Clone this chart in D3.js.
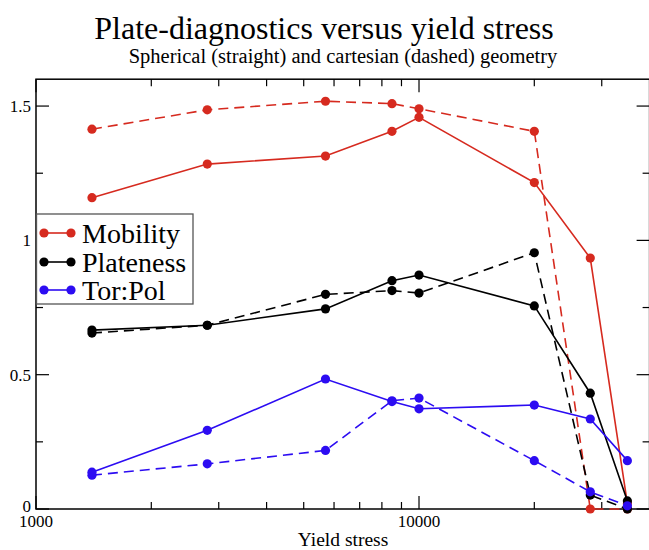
<!DOCTYPE html>
<html>
<head>
<meta charset="utf-8">
<script src="https://cdn.jsdelivr.net/npm/d3@7"></script>
<style>
  html, body { margin: 0; padding: 0; background: #fff; }
  svg { display: block; }
</style>
</head>
<body>
<svg id="chart" width="649" height="550"></svg>
<script>
// ---- Data ----
const yieldStress   = [1400, 2800, 5700, 8500, 10000, 20000, 28000, 35000];
const mobilitySph   = [1.159, 1.284, 1.314, 1.406, 1.458, 1.215, 0.934, 0.02];
const mobilityCart  = [1.414, 1.486, 1.518, 1.509, 1.490, 1.406, 0.0, 0.0];
const platenessSph  = [0.666, 0.684, 0.745, 0.850, 0.871, 0.756, 0.431, 0.03];
const platenessCart = [0.655, 0.684, 0.799, 0.813, 0.804, 0.954, 0.052, 0.0];
const torpolSph     = [0.137, 0.293, 0.484, 0.400, 0.373, 0.387, 0.335, 0.180];
const torpolCart    = [0.126, 0.168, 0.218, 0.403, 0.413, 0.180, 0.064, 0.012];

const seriesNames = ["Mobility", "Plateness", "Tor:Pol"];
const xMajorTicks = [1000, 10000];
const xMinorTicks = [2000, 3000, 4000, 5000, 6000, 7000, 8000, 9000, 20000, 30000, 40000];
const yMajorTicks = [0, 0.5, 1, 1.5];
const yMinorTicks = [0.25, 0.75, 1.25];
const titleText = "Plate-diagnostics versus yield stress";
const subtitleText = "Spherical (straight) and cartesian (dashed) geometry";
const xLabelText = "Yield stress";

// ---- Layout ----
const FONT = "'Liberation Serif', 'DejaVu Serif', serif";
const colors = ["#d62a1f", "#000000", "#2c0cf2"];
const L = 36, R = 649.6, T = 79.2, B = 509;

const svg = d3.select("#chart");
const x = d3.scaleLog().domain([1000, 40000]).range([L, R]);
const y = d3.scaleLinear().domain([0, 1.6]).range([B, T]);

// Frame
svg.append("rect").attr("x", L).attr("y", T).attr("width", R - L).attr("height", B - T)
  .attr("fill", "none").attr("stroke", "#000").attr("stroke-width", 1.5);

// Ticks (inward, mirrored)
const axG = svg.append("g").attr("stroke", "#000").attr("stroke-width", 1.2);
const majLen = 13, minLen = 7;
function xTicks(vals, len) {
  vals.forEach(v => {
    axG.append("line").attr("x1", x(v)).attr("x2", x(v)).attr("y1", B).attr("y2", B - len);
    axG.append("line").attr("x1", x(v)).attr("x2", x(v)).attr("y1", T).attr("y2", T + len);
  });
}
function yTicks(vals, len) {
  vals.forEach(v => {
    axG.append("line").attr("y1", y(v)).attr("y2", y(v)).attr("x1", L).attr("x2", L + len);
    axG.append("line").attr("y1", y(v)).attr("y2", y(v)).attr("x1", R).attr("x2", R - len);
  });
}
xTicks(xMajorTicks, majLen); xTicks(xMinorTicks, minLen);
yTicks(yMajorTicks, majLen); yTicks(yMinorTicks, minLen);

// Tick labels
const fmtY = d3.format("~g");
svg.append("g").selectAll("text").data(yMajorTicks).join("text")
  .attr("font-family", FONT)
  .attr("x", L - 5).attr("y", d => y(d) - (d === 0 ? 3 : 0)).attr("dy", "0.35em")
  .attr("text-anchor", "end").attr("font-size", 17).text(d => fmtY(d));
svg.append("g").selectAll("text").data(xMajorTicks).join("text")
  .attr("font-family", FONT)
  .attr("x", d => x(d)).attr("y", 527)
  .attr("text-anchor", "middle").attr("font-size", 17).text(d => d);

// Titles
svg.append("text").attr("font-family", FONT).attr("x", 324).attr("y", 39).attr("text-anchor", "middle")
  .attr("font-size", 32).text(titleText);
svg.append("text").attr("font-family", FONT).attr("x", 343).attr("y", 63).attr("text-anchor", "middle")
  .attr("font-size", 20.5).text(subtitleText);
svg.append("text").attr("font-family", FONT).attr("x", 343).attr("y", 546).attr("text-anchor", "middle")
  .attr("font-size", 19.5).text(xLabelText);

// Series
const sets = [
  { vals: mobilityCart, c: 0, dash: "10,6" },
  { vals: mobilitySph, c: 0, dash: null },
  { vals: platenessCart, c: 1, dash: "10,6" },
  { vals: platenessSph, c: 1, dash: null },
  { vals: torpolCart, c: 2, dash: "10,6" },
  { vals: torpolSph, c: 2, dash: null }
];
const line = d3.line().x(d => x(d[0])).y(d => y(d[1]));
sets.forEach(s => {
  const pts = yieldStress.map((xv, i) => [xv, s.vals[i]]);
  const g = svg.append("g");
  g.append("path").datum(pts).attr("d", line).attr("fill", "none")
    .attr("stroke", colors[s.c]).attr("stroke-width", 1.6)
    .attr("stroke-dasharray", s.dash);
  g.selectAll("circle").data(pts).join("circle")
    .attr("cx", d => x(d[0])).attr("cy", d => y(d[1])).attr("r", 4.6)
    .attr("fill", colors[s.c]);
});

// Legend
const lg = svg.append("g");
lg.append("rect").attr("x", 36.5).attr("y", 214).attr("width", 156.5).attr("height", 90)
  .attr("fill", "#fff").attr("stroke", "#555").attr("stroke-width", 1.3);
const rowY = [233, 262, 290];
seriesNames.forEach((n, i) => {
  lg.append("line").attr("x1", 44).attr("x2", 71).attr("y1", rowY[i]).attr("y2", rowY[i])
    .attr("stroke", colors[i]).attr("stroke-width", 1.6);
  [44, 71].forEach(cx => lg.append("circle").attr("cx", cx).attr("cy", rowY[i]).attr("r", 4.6).attr("fill", colors[i]));
  lg.append("text").attr("font-family", FONT).attr("x", 82).attr("y", rowY[i]).attr("dy", "0.34em")
    .attr("font-size", 28).text(n);
});
</script>
</body>
</html>
